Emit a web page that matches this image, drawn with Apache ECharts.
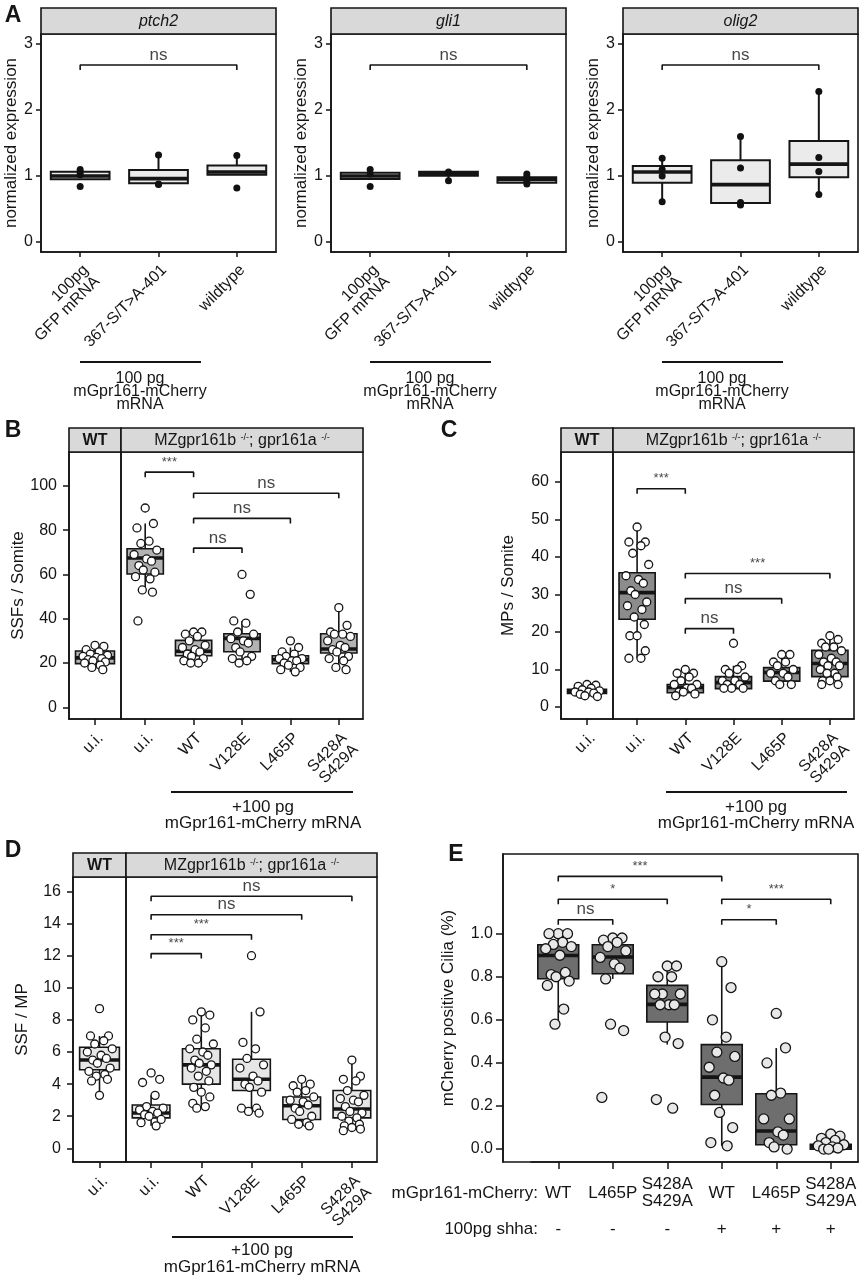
<!DOCTYPE html>
<html><head><meta charset="utf-8">
<script src="https://cdn.jsdelivr.net/npm/echarts@6/dist/echarts.min.js"></script>
<style>html,body{margin:0;padding:0;background:#fff}#c{width:861px;height:1280px}</style>
</head><body><div id="c"></div>
<script>
// ---------------- DATA ----------------
// Panel A
const aCategories = ['100pg\nGFP mRNA', '367-S/T>A-401', 'wildtype'];
const aGenes = ['ptch2', 'gli1', 'olig2'];
// box stats: [lower whisker, Q1, median, Q3, upper whisker]
const ptch2Stats = [[0.95, 0.95, 1.0, 1.065, 1.1], [0.88, 0.89, 0.96, 1.09, 1.32], [1.02, 1.02, 1.06, 1.16, 1.31]];
const ptch2Points = [[1.1, 1.06, 1.02, 0.84], [1.32, 0.88, 0.87], [1.31, 0.82]];
const gli1Stats = [[0.955, 0.955, 1.0, 1.05, 1.1], [0.93, 1.005, 1.04, 1.065, 1.065], [0.88, 0.9, 0.95, 0.98, 1.03]];
const gli1Points = [[1.1, 1.03, 0.84], [1.06, 0.93], [1.03, 0.99, 0.93, 0.88]];
const olig2Stats = [[0.61, 0.9, 1.06, 1.15, 1.27], [0.56, 0.59, 0.87, 1.24, 1.6], [0.72, 0.98, 1.18, 1.53, 2.28]];
const olig2Points = [[1.27, 1.1, 1.0, 0.61], [1.6, 1.12, 0.6, 0.56], [2.28, 1.28, 1.07, 0.72]];
const aBracket = [0, 2, 2.68, 'ns'];
const aTicks = [0, 1, 2, 3];

// Panels B-D shared categories
const wtCats = ['u.i.'];
const mzCats = ['u.i.', 'WT', 'V128E', 'L465P', 'S428A\nS429A'];

// Panel B : SSFs / Somite
const ssfWtStats = [[17, 19.7, 22.3, 25.4, 28]];
const ssfWtPoints = [[28, 27.5, 26, 25, 24, 23.5, 23, 22.5, 22, 21.5, 21, 20.5, 20, 19, 18, 17]];
const ssfMzStats = [[52, 60.2, 67.4, 71.6, 83], [20, 23.3, 25.3, 30.2, 34], [20, 25.1, 31.1, 33.2, 39], [16, 19.7, 21.5, 23.3, 27], [17, 24.5, 26.3, 33.2, 45]];
const ssfMzPoints = [
  [90, 83, 81, 75, 74, 71, 69, 67, 66, 64, 62, 61, 59, 58, 53, 52, 39],
  [34, 34, 33, 32, 30, 28, 27, 26, 25, 24, 23, 22, 21, 20, 20],
  [60, 51, 39, 38, 34, 33, 31, 30, 29, 27, 25, 23, 22, 21, 20],
  [30, 27, 25, 24, 23, 22, 22, 21, 21, 20, 19, 18, 17, 16],
  [45, 37, 34, 33, 33, 32, 30, 28, 27, 26, 25, 23, 22, 21, 18, 17]
];
const ssfBrackets = [[0, 1, 106.2, '***'], [1, 4, 96.7, 'ns'], [1, 3, 85.3, 'ns'], [1, 2, 71.9, 'ns']];
const ssfTicks = [0, 20, 40, 60, 80, 100];

// Panel C : MPs / Somite
const mpWtStats = [[2.8, 3.6, 4.1, 4.7, 6]];
const mpWtPoints = [[6, 5.8, 5.5, 5, 4.6, 4.3, 4, 4, 3.7, 3.4, 3, 2.8]];
const mpMzStats = [[13, 23.4, 30.5, 35.8, 48], [3, 3.8, 5.2, 6.0, 10], [4.9, 4.9, 6.5, 8.1, 11], [6, 6.9, 9.2, 10.5, 14], [6, 8.1, 11.6, 15.1, 19]];
const mpMzPoints = [
  [48, 44, 44, 43, 41, 38, 35, 34, 33, 31, 30, 28, 27, 26, 24, 22, 19, 19, 15, 13, 13],
  [10, 9, 9, 8, 7, 6, 6, 5, 5, 4, 4, 3.5, 3],
  [17, 11, 10, 10, 9, 8, 7, 7, 6, 6, 5, 5, 5],
  [14, 14, 12, 12, 11, 10, 9, 9, 8, 7, 6, 6],
  [19, 18, 17, 16, 16, 15, 14, 13, 12, 12, 11, 11, 10, 9, 9, 8, 7, 7, 6, 6]
];
const mpBrackets = [[0, 1, 58.2, '***'], [1, 4, 35.6, '***'], [1, 3, 28.9, 'ns'], [1, 2, 20.9, 'ns']];
const mpTicks = [0, 10, 20, 30, 40, 50, 60];

// Panel D : SSF / MP
const ratioWtStats = [[3.35, 4.9, 5.5, 6.3, 7.0]];
const ratioWtPoints = [[8.7, 7, 7, 6.7, 6.5, 6.2, 6, 5.8, 5.6, 5.5, 5.3, 5, 4.8, 4.6, 4.5, 4.3, 4.2, 3.3]];
const ratioMzStats = [[1.4, 1.9, 2.2, 2.7, 3.3], [2.5, 4.0, 5.2, 6.2, 8.5], [2.2, 3.6, 4.3, 5.55, 8.5], [1.4, 1.8, 2.65, 3.2, 4.3], [1.1, 1.9, 2.45, 3.6, 5.5]];
const ratioMzPoints = [
  [4.7, 4.3, 4.1, 3.3, 2.6, 2.5, 2.4, 2.3, 2.2, 2.1, 2.0, 1.8, 1.6, 1.4],
  [8.5, 8.3, 8.0, 7.5, 6.8, 6.5, 6.2, 6.0, 5.8, 5.5, 5.3, 5.2, 5.0, 4.8, 4.5, 4.2, 3.8, 3.5, 3.2, 2.8, 2.6, 2.5],
  [12, 8.5, 6.6, 6.2, 5.6, 5.2, 5.0, 4.5, 4.2, 4.0, 3.8, 3.5, 2.5, 2.5, 2.3, 2.2],
  [4.3, 4.0, 3.9, 3.6, 3.5, 3.2, 3.0, 2.9, 2.7, 2.5, 2.3, 2.0, 1.8, 1.6, 1.5, 1.4],
  [5.5, 4.5, 4.3, 4.2, 3.6, 3.3, 3.1, 3.0, 2.9, 2.6, 2.3, 2.2, 2.0, 1.9, 1.7, 1.5, 1.4, 1.3, 1.2, 1.1]
];
const ratioBrackets = [[0, 1, 12.13, '***'], [0, 2, 13.3, '***'], [0, 3, 14.55, 'ns'], [0, 4, 15.7, 'ns']];
const ratioTicks = [0, 2, 4, 6, 8, 10, 12, 14, 16];

// Panel E : mCherry positive cilia
const eCats = ['WT', 'L465P', 'S428A\nS429A', 'WT', 'L465P', 'S428A\nS429A'];
const eShha = ['-', '-', '-', '+', '+', '+'];
const ciliaStats = [[0.58, 0.791, 0.899, 0.949, 1.0], [0.79, 0.814, 0.892, 0.949, 0.99], [0.485, 0.59, 0.672, 0.76, 0.85], [0.015, 0.207, 0.334, 0.485, 0.868], [0, 0.02, 0.084, 0.257, 0.469], [0, 0, 0.013, 0.022, 0.07]];
const ciliaPoints = [
  [1.0, 1.0, 1.0, 0.96, 0.95, 0.94, 0.93, 0.90, 0.82, 0.81, 0.80, 0.78, 0.76, 0.65, 0.58],
  [0.98, 0.98, 0.97, 0.96, 0.94, 0.92, 0.89, 0.86, 0.84, 0.79, 0.58, 0.55, 0.24],
  [0.85, 0.85, 0.80, 0.80, 0.72, 0.72, 0.72, 0.67, 0.67, 0.67, 0.52, 0.49, 0.23, 0.19],
  [0.87, 0.75, 0.60, 0.52, 0.45, 0.43, 0.38, 0.33, 0.32, 0.25, 0.17, 0.10, 0.03, 0.015],
  [0.63, 0.47, 0.40, 0.26, 0.25, 0.14, 0.14, 0.08, 0.065, 0.03, 0.01, 0.0],
  [0.07, 0.06, 0.05, 0.04, 0.03, 0.02, 0.015, 0.01, 0.005, 0.0, 0.0]
];
const ciliaBrackets = [[0, 3, 1.266, '***'], [0, 2, 1.16, '*'], [0, 1, 1.065, 'ns'], [3, 5, 1.16, '***'], [3, 4, 1.065, '*']];
const ciliaTicks = [0, 0.2, 0.4, 0.6, 0.8, 1.0];

// ---------------- LAYOUT / RENDER ----------------
const FONT = "'Liberation Sans', Arial, sans-serif";
const INK = '#151515';
const JIT = [0, 0.17, -0.17, 0.08, -0.09, 0.24, -0.23, 0.03, 0.13, -0.13, -0.04, 0.2, -0.2, 0.1, -0.06, 0.15, -0.15];

const option = {
  animation: false, backgroundColor: '#fff', textStyle: { fontFamily: FONT },
  grid: [], xAxis: [], yAxis: [], series: [], graphic: []
};

function panel(cfg) {
  const gi = option.grid.length;
  const tickLen = cfg.tickLen || 6;
  option.grid.push({ left: cfg.left, top: cfg.top, width: cfg.width, height: cfg.height,
    show: cfg.border !== false, borderColor: INK, borderWidth: 1.6, backgroundColor: 'rgba(0,0,0,0)' });
  const xc = option.xAxis.length;
  const lab = Object.assign({ show: true, interval: 0, rotate: 45, align: 'right', verticalAlign: 'top',
    fontSize: 16, color: INK, margin: cfg.xMargin || 11, lineHeight: 16, fontFamily: FONT }, cfg.labelOpts || {});
  option.xAxis.push({ type: 'category', gridIndex: gi, data: cfg.cats, boundaryGap: true, position: 'bottom',
    axisLine: { show: true, onZero: false, lineStyle: { color: INK, width: 1.6 } },
    axisTick: { show: true, alignWithLabel: true, interval: 0, length: tickLen, lineStyle: { color: INK, width: 1.5 } },
    axisLabel: lab, splitLine: { show: false } });
  const xv = option.xAxis.length;
  option.xAxis.push({ type: 'value', gridIndex: gi, min: -0.5, max: cfg.cats.length - 0.5, show: false,
    axisLine: { onZero: false }, splitLine: { show: false } });
  const yi = option.yAxis.length;
  option.yAxis.push({ type: 'value', gridIndex: gi, min: cfg.ymin, max: cfg.ymax, show: !!cfg.showY, position: 'left',
    name: cfg.yname || '', nameLocation: 'middle', nameGap: cfg.nameGap || 30,
    nameTextStyle: { fontSize: 17, color: INK, fontFamily: FONT },
    axisLine: { show: true, onZero: false, lineStyle: { color: INK, width: 1.6 } },
    axisTick: { show: true, length: tickLen, customValues: cfg.yticks, lineStyle: { color: INK, width: 1.5 } },
    axisLabel: { show: true, customValues: cfg.yticks, fontSize: 16, color: INK, margin: cfg.yMargin || 12, fontFamily: FONT,
      formatter: cfg.yfmt || (v => String(v)) },
    splitLine: { show: false } });
  return { gi, xc, xv, yi, cfg };
}

function addBoxes(ax, stats, fill, lw, medW) {
  option.series.push({
    type: 'custom', xAxisIndex: ax.xc, yAxisIndex: ax.yi, z: 3, silent: true,
    data: stats.map((s, i) => [i, s[0], s[1], s[2], s[3], s[4]]),
    encode: { x: 0, y: [1, 2, 3, 4, 5] },
    renderItem: function (params, api) {
      const i = api.value(0);
      const c = k => api.coord([i, api.value(k)]);
      const pMin = c(1), pQ1 = c(2), pMed = c(3), pQ3 = c(4), pMax = c(5);
      const bw = api.size([1, 0])[0] * 0.75;
      const x = pMed[0];
      const st = { stroke: INK, lineWidth: lw, fill: null };
      return { type: 'group', children: [
        { type: 'line', shape: { x1: x, y1: pMax[1], x2: x, y2: pQ3[1] }, style: st },
        { type: 'line', shape: { x1: x, y1: pQ1[1], x2: x, y2: pMin[1] }, style: st },
        { type: 'rect', shape: { x: x - bw / 2, y: pQ3[1], width: bw, height: pQ1[1] - pQ3[1] }, style: { fill: fill, stroke: INK, lineWidth: lw } },
        { type: 'line', shape: { x1: x - bw / 2, y1: pMed[1], x2: x + bw / 2, y2: pMed[1] }, style: { stroke: INK, lineWidth: medW } }
      ] };
    }
  });
}

function addPoints(ax, pts, st, jit) {
  const data = [];
  pts.forEach((grp, i) => grp.forEach((v, k) => data.push([i + (jit ? JIT[k % JIT.length] * jit : 0), v])));
  option.series.push({ type: 'scatter', xAxisIndex: ax.xv, yAxisIndex: ax.yi, data: data, symbol: 'circle',
    symbolSize: st.size, z: 6, silent: true,
    itemStyle: { color: st.fill, borderColor: st.stroke, borderWidth: st.bw, opacity: 1 } });
}

function addBrackets(ax, brs, tickPx) {
  const span = ax.cfg.ymax - ax.cfg.ymin;
  const d = span / ax.cfg.height * tickPx;
  brs.forEach(([a, b, y, lab]) => {
    option.series.push({ type: 'line', xAxisIndex: ax.xv, yAxisIndex: ax.yi,
      data: [[a, y - d], [a, y], [b, y], [b, y - d]], symbol: 'none', z: 4, silent: true,
      lineStyle: { color: INK, width: 1.6 } });
    const isNs = lab === 'ns';
    option.series.push({ type: 'scatter', xAxisIndex: ax.xv, yAxisIndex: ax.yi, data: [[(a + b) / 2, y]],
      symbolSize: 1, itemStyle: { color: 'rgba(0,0,0,0)' }, z: 4, silent: true,
      label: { show: true, position: 'top', distance: isNs ? 1 : 3, formatter: lab,
        fontSize: isNs ? 17 : 13, color: INK, fontFamily: FONT } });
  });
}

function strip(x, y, w, h, text, opts) {
  option.graphic.push({ type: 'rect', shape: { x: x, y: y, width: w, height: h },
    style: { fill: '#d9d9d9', stroke: INK, lineWidth: 1.6 }, z: 10 });
  option.graphic.push({ type: 'text', x: x + w / 2, y: y + h / 2 + 1, z: 11,
    style: Object.assign({ text: text, fill: INK, fontSize: 16, fontFamily: FONT, align: 'center', verticalAlign: 'middle' }, opts || {}) });
}
function gtext(x, y, text, opts) {
  option.graphic.push({ type: 'text', x: x, y: y, z: 11,
    style: Object.assign({ text: text, fill: INK, fontSize: 17, fontFamily: FONT, align: 'center', verticalAlign: 'middle' }, opts || {}) });
}
function gline(x1, y1, x2, y2) {
  option.graphic.push({ type: 'line', shape: { x1, y1, x2, y2 }, style: { stroke: INK, lineWidth: 1.8 }, z: 11 });
}

const supRich = { s: { fontSize: 9, verticalAlign: 'top', fill: INK, fontFamily: FONT, padding: [0, 0, 6, 0] } };
const mzTitle = 'MZgpr161b {s|-/-}; gpr161a {s|-/-}';
const whitePt = { size: 8, fill: '#ffffff', stroke: INK, bw: 1.3 };

// ---- Panel A ----
const aStats = [ptch2Stats, gli1Stats, olig2Stats];
const aPts = [ptch2Points, gli1Points, olig2Points];
const aLefts = [41, 331, 623];
aGenes.forEach((g, k) => {
  const ax = panel({ left: aLefts[k], top: 34, width: 235, height: 218, cats: aCategories,
    ymin: -0.15, ymax: 3.15, yticks: aTicks, showY: true, yname: 'normalized expression', nameGap: 18,
    tickLen: 5, yMargin: 8, xMargin: 10 });
  addBoxes(ax, aStats[k], '#ebebeb', 2, 3.6);
  addPoints(ax, aPts[k], { size: 7, fill: '#111', stroke: '#111', bw: 0 }, 0);
  addBrackets(ax, [aBracket], 5);
  strip(aLefts[k], 8, 235, 26, g, { fontStyle: 'italic' });
  gline(aLefts[k] + 39, 362, aLefts[k] + 160, 362);
  gtext(aLefts[k] + 99, 392, '100 pg\nmGpr161-mCherry\nmRNA', { fontSize: 16, lineHeight: 13 });
});

// ---- Panel B ----
const bWt = panel({ left: 69, top: 452, width: 52, height: 267, cats: wtCats, ymin: -5.3, ymax: 115.3,
  yticks: ssfTicks, showY: true, yname: 'SSFs / Somite', nameGap: 37 });
const bMz = panel({ left: 121, top: 452, width: 242, height: 267, cats: mzCats, ymin: -5.3, ymax: 115.3, yticks: ssfTicks });
addBoxes(bWt, ssfWtStats, '#b3b3b3', 1.6, 3.6);
addBoxes(bMz, ssfMzStats, '#b3b3b3', 1.6, 3.6);
addPoints(bWt, ssfWtPoints, whitePt, 1);
addPoints(bMz, ssfMzPoints, whitePt, 1);
addBrackets(bMz, ssfBrackets, 5);
strip(69, 428, 52, 24, 'WT', { fontWeight: 'bold' });
strip(121, 428, 242, 24, mzTitle, { rich: supRich });
gline(171, 792, 353, 792);
gtext(263, 815, '+100 pg\nmGpr161-mCherry mRNA', { lineHeight: 16 });

// ---- Panel C ----
const cWt = panel({ left: 561, top: 452, width: 52, height: 267, cats: wtCats, ymin: -3.2, ymax: 68,
  yticks: mpTicks, showY: true, yname: 'MPs / Somite', nameGap: 44 });
const cMz = panel({ left: 613, top: 452, width: 241, height: 267, cats: mzCats, ymin: -3.2, ymax: 68, yticks: mpTicks });
addBoxes(cWt, mpWtStats, '#8c8c8c', 1.6, 3.6);
addBoxes(cMz, mpMzStats, '#8c8c8c', 1.6, 3.6);
addPoints(cWt, mpWtPoints, whitePt, 1);
addPoints(cMz, mpMzPoints, whitePt, 1);
addBrackets(cMz, mpBrackets, 5);
strip(561, 428, 52, 24, 'WT', { fontWeight: 'bold' });
strip(613, 428, 241, 24, mzTitle, { rich: supRich });
gline(666, 792, 847, 792);
gtext(756, 815, '+100 pg\nmGpr161-mCherry mRNA', { lineHeight: 16 });

// ---- Panel D ----
const dWt = panel({ left: 73, top: 877, width: 53, height: 285, cats: wtCats, ymin: -0.85, ymax: 16.9,
  yticks: ratioTicks, showY: true, yname: 'SSF / MP', nameGap: 42 });
const dMz = panel({ left: 126, top: 877, width: 251, height: 285, cats: mzCats, ymin: -0.85, ymax: 16.9, yticks: ratioTicks });
addBoxes(dWt, ratioWtStats, '#e6e6e6', 1.6, 3.6);
addBoxes(dMz, ratioMzStats, '#e6e6e6', 1.6, 3.6);
addPoints(dWt, ratioWtPoints, whitePt, 1);
addPoints(dMz, ratioMzPoints, whitePt, 1);
addBrackets(dMz, ratioBrackets, 5);
strip(73, 853, 53, 24, 'WT', { fontWeight: 'bold' });
strip(126, 853, 251, 24, mzTitle, { rich: supRich });
gline(172, 1237, 353, 1237);
gtext(262, 1259, '+100 pg\nmGpr161-mCherry mRNA', { lineHeight: 17 });

// ---- Panel E ----
const eFrameGrid = option.grid.length;
option.grid.push({ left: 503, top: 854, width: 355, height: 308, show: true, borderColor: INK, borderWidth: 1.6, backgroundColor: 'rgba(0,0,0,0)' });
option.xAxis.push({ type: 'value', gridIndex: eFrameGrid, min: 0, max: 1, show: false, axisLine: { onZero: false }, splitLine: { show: false } });
option.yAxis.push({ type: 'value', gridIndex: eFrameGrid, min: -0.06, max: 1.37, show: true, position: 'left',
  name: 'mCherry positive Cilia (%)', nameLocation: 'middle', nameGap: 46,
  nameTextStyle: { fontSize: 17, color: INK, fontFamily: FONT },
  axisLine: { show: true, onZero: false, lineStyle: { color: INK, width: 1.6 } },
  axisTick: { show: true, length: 7, customValues: ciliaTicks, lineStyle: { color: INK, width: 1.5 } },
  axisLabel: { show: true, customValues: ciliaTicks, fontSize: 16, color: INK, margin: 10, fontFamily: FONT, formatter: v => v.toFixed(1) },
  splitLine: { show: false } });
const eAx = panel({ left: 531, top: 854, width: 327, height: 308, cats: eCats, ymin: -0.06, ymax: 1.37,
  yticks: ciliaTicks, border: false, tickLen: 7,
  labelOpts: { rotate: 0, align: 'center', verticalAlign: 'middle', margin: 31, fontSize: 17, lineHeight: 17 } });
option.xAxis.push({ type: 'category', gridIndex: eAx.gi, data: eShha, position: 'bottom', boundaryGap: true,
  axisLine: { show: false, onZero: false }, axisTick: { show: false },
  axisLabel: { show: true, interval: 0, fontSize: 17, color: INK, margin: 67, verticalAlign: 'middle', fontFamily: FONT },
  splitLine: { show: false } });
addBoxes(eAx, ciliaStats, '#6e6e6e', 1.6, 3.6);
addPoints(eAx, ciliaPoints, { size: 10, fill: '#e8e8e8', stroke: INK, bw: 1.3 }, 1);
addBrackets(eAx, ciliaBrackets, 5);
gtext(538, 1193, 'mGpr161-mCherry:', { align: 'right' });
gtext(538, 1229, '100pg shha:', { align: 'right' });

// ---- Panel letters ----
const letterStyle = { fontSize: 23, fontWeight: 'bold' };
gtext(13, 16, 'A', letterStyle);
gtext(13, 431, 'B', letterStyle);
gtext(449, 431, 'C', letterStyle);
gtext(13, 851, 'D', letterStyle);
gtext(456, 855, 'E', letterStyle);

const chart = echarts.init(document.getElementById('c'), null, { renderer: 'canvas' });
chart.setOption(option);
</script>
</body></html>
